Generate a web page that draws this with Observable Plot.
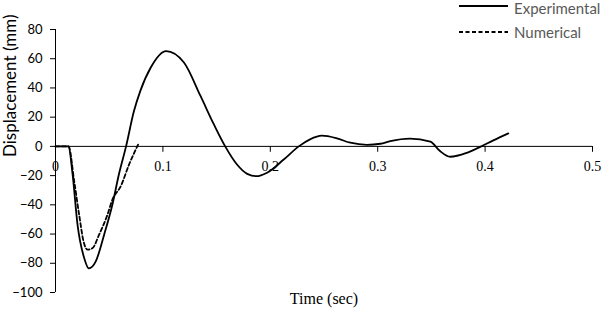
<!DOCTYPE html>
<html>
<head>
<meta charset="utf-8">
<script src="https://cdn.jsdelivr.net/npm/d3@7"></script>
<script src="https://cdn.jsdelivr.net/npm/@observablehq/plot@0.6"></script>
<style>
  body { margin: 0; background: #fff; }
  #wrap { position: relative; width: 604px; height: 313px; }
  .legline { position: absolute; left: 459px; }
  .legtext { position: absolute; left: 514px; line-height: 16px; white-space: nowrap; font-family: Lato, sans-serif; font-size: 15px; color: #595959; }
</style>
</head>
<body>
<div id="wrap"></div>
<script>
// Series names
const seriesNames = ["Experimental", "Numerical"];

// Experimental series (time in sec, displacement in mm)
const expT = [0, 0.012, 0.0159, 0.0205, 0.0267, 0.031, 0.0375, 0.0453, 0.053, 0.059, 0.0657, 0.073, 0.079, 0.0887, 0.103, 0.1196, 0.135, 0.1475, 0.158, 0.169, 0.1785, 0.187, 0.197, 0.2125, 0.2265, 0.237, 0.248, 0.262, 0.2745, 0.29, 0.3025, 0.3117, 0.330, 0.349, 0.358, 0.3675, 0.383, 0.395, 0.4077, 0.4216];
const expD = [0, 0, -19, -53.5, -76.4, -83.5, -78.7, -60.4, -39.8, -19.2, 0, 24, 38, 54, 65.2, 57.4, 34.5, 15, 0, -12.4, -18.8, -20.4, -18, -9, 0, 4.8, 7.3, 5.5, 2.5, 1.1, 1.8, 3.6, 5.3, 3.2, -3.2, -7.1, -4.4, -0.5, 4.1, 8.9];

// Numerical series
const numT = [0, 0.0122, 0.0174, 0.022, 0.0261, 0.0298, 0.0345, 0.0406, 0.0484, 0.053, 0.0608, 0.0685, 0.0769];
const numD = [0, 0, -23.8, -46.7, -65, -70.7, -69.6, -60.4, -46.7, -36.4, -27.2, -12.4, 1.2];

// Tick values
const xTicks = [0, 0.1, 0.2, 0.3, 0.4, 0.5];
const yTicks = [-100, -80, -60, -40, -20, 0, 20, 40, 60, 80];

const expData = expT.map((t, i) => ({t, d: expD[i]}));
const numData = numT.map((t, i) => ({t, d: numD[i]}));

const tickShape = { draw(ctx, l) { ctx.moveTo(0, 0); ctx.lineTo(0, -l); } };

const chart = Plot.plot({
  width: 604,
  height: 313,
  marginLeft: 55,
  marginRight: 12,
  marginTop: 29,
  marginBottom: 21,
  style: { background: "#fff", color: "#000" },
  x: { domain: [0, 0.5], axis: null },
  y: { domain: [-100, 80], axis: null },
  marks: [
    Plot.ruleY([0], { stroke: "#000", strokeWidth: 1 }),
    Plot.ruleX([0], { stroke: "#000", strokeWidth: 1 }),
    Plot.axisY({ ticks: yTicks, tickSize: 5, tickPadding: 8, label: null, fontSize: 13, fontFamily: "Lato, sans-serif", stroke: "#000" }),
    Plot.vector(xTicks, { x: d => d, y: 0, length: 5, rotate: 180, anchor: "start", shape: tickShape, stroke: "#000", strokeWidth: 1 }),
    Plot.text(xTicks, { x: d => d, y: 0, dy: 20, text: d => d === 0 ? "0" : String(d), fontFamily: "'Liberation Serif', 'Times New Roman', serif", fontSize: 14, fill: "#000" }),
    Plot.line(expData, { x: "t", y: "d", curve: "monotone-x", stroke: "#000", strokeWidth: 1.8 }),
    Plot.line(numData, { x: "t", y: "d", curve: "monotone-x", stroke: "#000", strokeWidth: 1.8, strokeDasharray: "4,2.5" }),
    Plot.text(["Displacement (mm)"], { frameAnchor: "left", rotate: -90, dx: -45, dy: -4, text: d => d, fontFamily: "Lato, sans-serif", fontSize: 17, fill: "#000" }),
    Plot.text(["Time (sec)"], { frameAnchor: "bottom", dy: 11, text: d => d, fontFamily: "'Liberation Serif', 'Times New Roman', serif", fontSize: 16, fill: "#000" })
  ]
});

const wrap = document.getElementById("wrap");
wrap.appendChild(chart);

// Legend
const legendLineY = [6, 32];
const legendTextTop = [0, 24];
seriesNames.forEach((name, i) => {
  const svgNS = "http://www.w3.org/2000/svg";
  const svg = document.createElementNS(svgNS, "svg");
  svg.setAttribute("width", "50");
  svg.setAttribute("height", "6");
  svg.setAttribute("class", "legline");
  svg.style.top = (legendLineY[i] - 3) + "px";
  const ln = document.createElementNS(svgNS, "line");
  ln.setAttribute("x1", "0"); ln.setAttribute("x2", "49");
  ln.setAttribute("y1", "3"); ln.setAttribute("y2", "3");
  ln.setAttribute("stroke", "#000"); ln.setAttribute("stroke-width", "2");
  if (i === 1) ln.setAttribute("stroke-dasharray", "4,2.5");
  svg.appendChild(ln);
  wrap.appendChild(svg);
  const span = document.createElement("div");
  span.className = "legtext";
  span.style.top = legendTextTop[i] + "px";
  span.textContent = name;
  wrap.appendChild(span);
});
</script>
</body>
</html>
